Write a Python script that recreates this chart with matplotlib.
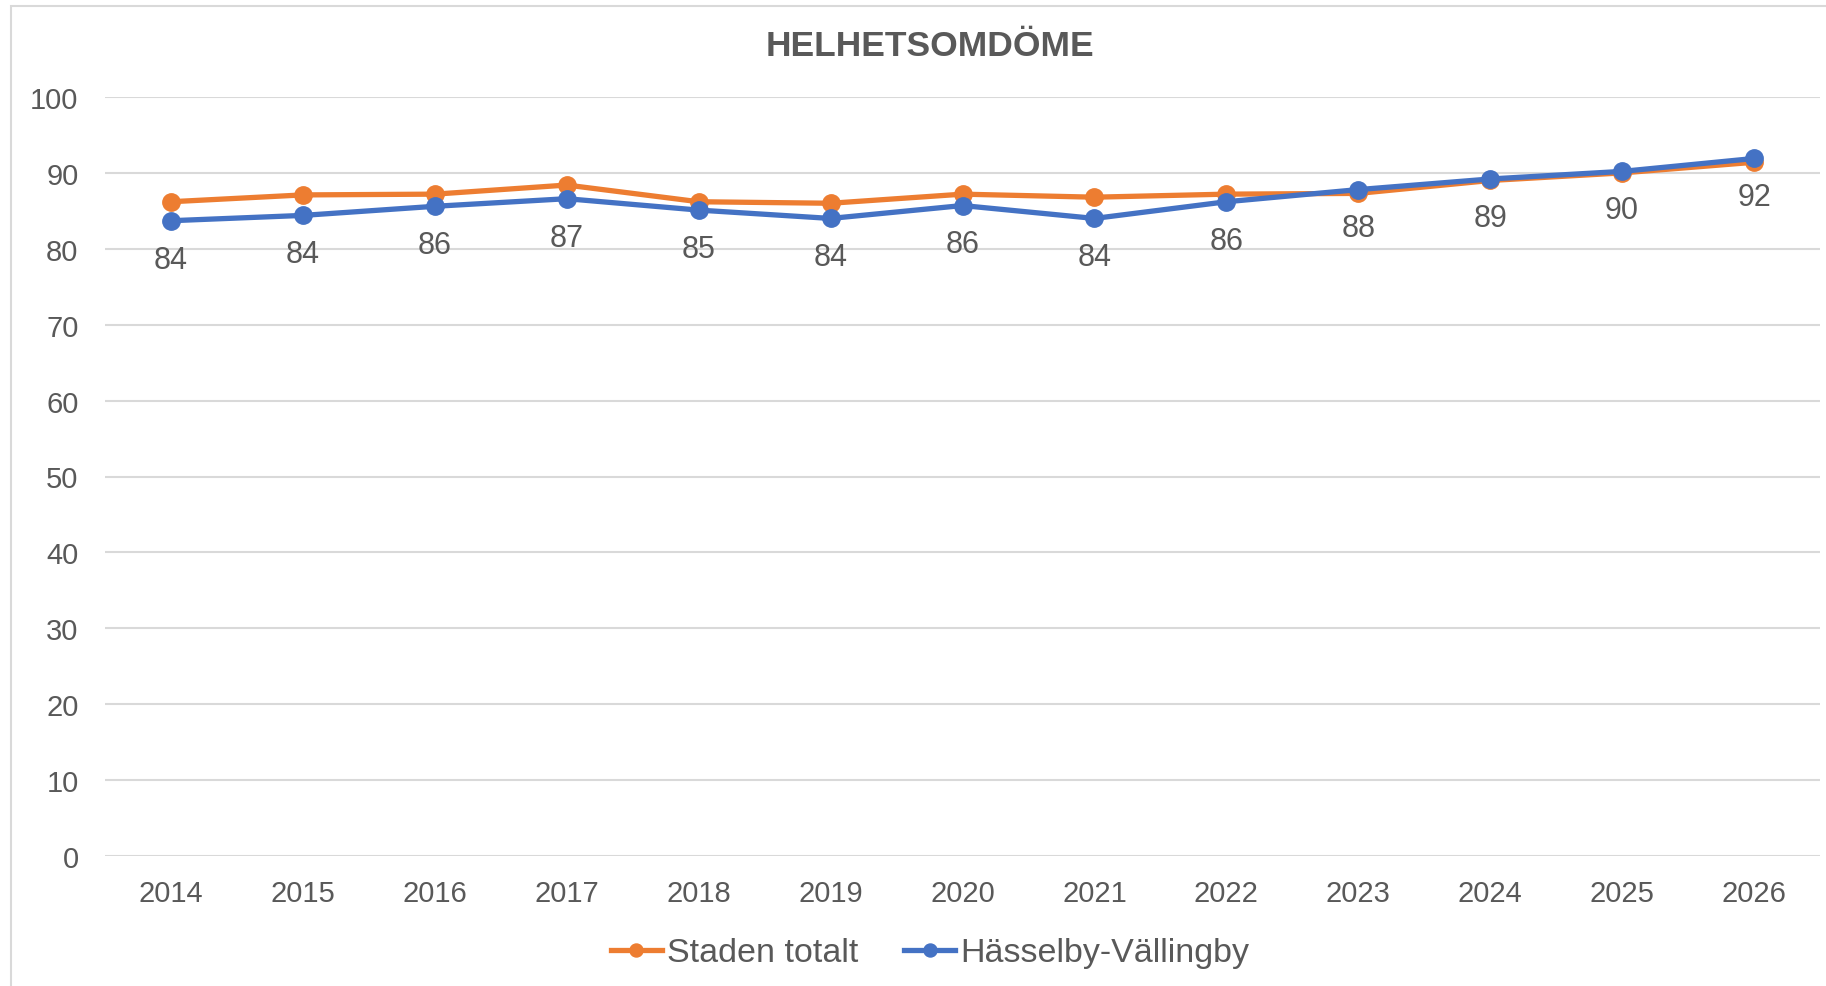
import matplotlib
matplotlib.use("Agg")
import matplotlib.pyplot as plt
from matplotlib.patches import Rectangle

plt.rcParams['font.family'] = ['Liberation Sans', 'DejaVu Sans']

# data
years = ["2014", "2015", "2016", "2017", "2018", "2019", "2020",
         "2021", "2022", "2023", "2024", "2025", "2026"]
staden = [86.2, 87.1, 87.2, 88.4, 86.2, 86.0, 87.2, 86.8, 87.2, 87.3, 89.0, 90.0, 91.4]
hasselby = [83.7, 84.4, 85.6, 86.6, 85.1, 84.0, 85.7, 84.0, 86.2, 87.8, 89.2, 90.2, 91.9]
yticks = [0, 10, 20, 30, 40, 50, 60, 70, 80, 90, 100]

ORANGE = "#ED7D31"
BLUE = "#4472C4"
TXT = "#595959"
GRID = "#D9D9D9"

fig = plt.figure(figsize=(18.26, 9.87), dpi=100)
ax = fig.add_axes([105 / 1826, 1 - 857 / 987, (1820 - 105) / 1826, (857 - 98) / 987])

x = list(range(len(years)))
ax.plot(x, staden, color=ORANGE, lw=3.8, marker="o", ms=12.5, label="Staden totalt", zorder=3)
ax.plot(x, hasselby, color=BLUE, lw=3.8, marker="o", ms=12.5, label="Hässelby-Vällingby", zorder=4)

# etiketter under blå serien
for xi, v in zip(x, hasselby):
    ax.annotate(f"{v:.0f}", (xi, v), xytext=(0, -28), textcoords="offset points",
                ha="center", va="center", fontsize=22, color=TXT)

ax.set_xlim(-0.5, len(years) - 0.5)
ax.set_ylim(0, 100)
ax.set_yticks(yticks)
ax.set_xticks(x)
ax.set_xticklabels(years)
ax.tick_params(axis="both", length=0, labelsize=21, labelcolor=TXT)
ax.tick_params(axis="y", pad=19)
ax.tick_params(axis="x", pad=16.5)
ax.yaxis.grid(True, color=GRID, lw=1.5)
ax.set_axisbelow(True)
for s in ax.spines.values():
    s.set_visible(False)

fig.text(930 / 1826, 1 - 46 / 987, "HELHETSOMDÖME", ha="center", va="center",
         fontsize=25.5, fontweight="bold", color=TXT)

fig.legend(loc="center", bbox_to_anchor=(930 / 1826, 1 - 954 / 987), ncol=2,
           frameon=False, fontsize=24.5, labelcolor=TXT, handlelength=1.5,
           handletextpad=0.15, columnspacing=1.35, markerscale=0.75, borderpad=0)

# ram runt diagramytan
fig.patches.append(Rectangle((11 / 1826, -0.05), 1.2, 1.05 - 7 / 987, transform=fig.transFigure,
                             fill=False, edgecolor=GRID, lw=1.5))

fig.savefig("out.png", dpi=100)
